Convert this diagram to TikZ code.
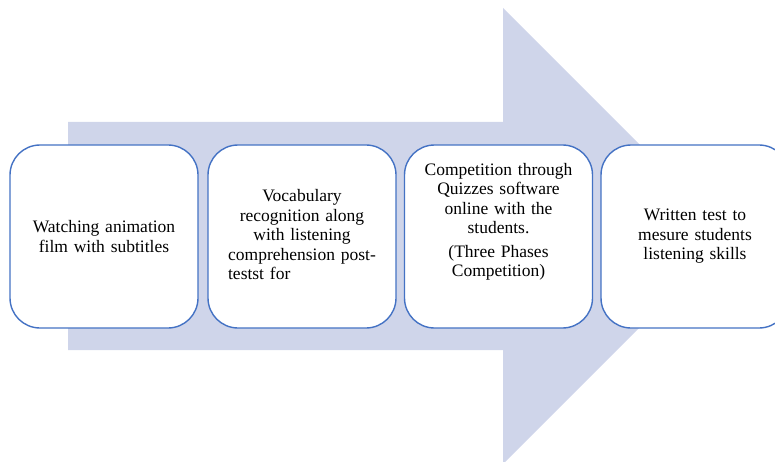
\documentclass[tikz,border=0pt]{standalone}
\usepackage{fontspec}
\setmainfont{Liberation Serif}
\definecolor{arrowfill}{HTML}{CFD5EA}
\definecolor{boxline}{HTML}{4472C4}
\begin{document}
\begin{tikzpicture}[x=1pt,y=-1pt,
  stepbox/.style={draw=boxline, line width=1.4pt, fill=white, rounded corners=30pt,
    minimum width=188pt, minimum height=183pt, inner sep=0pt},
  steptext/.style={align=center, text width=180pt, inner sep=0pt,
    font=\fontsize{17.5pt}{19.5pt}\selectfont}]
\useasboundingbox (0,0) rectangle (775,462);
\clip (0,0) rectangle (775,462);
% big process arrow in the background
\fill[arrowfill] (68,122) -- (503,122) -- (503,8) -- (731,236) -- (503,464)
  -- (503,350) -- (68,350) -- cycle;
% the four steps
\node[stepbox] (s1) at (104,236.5) {};
\node[stepbox] (s2) at (302,236.5) {};
\node[stepbox] (s3) at (498.5,236.5) {};
\node[stepbox] (s4) at (695,236.5) {};
\node[steptext] (t1) at (s1) {Watching animation\\ film with subtitles};
\node[steptext] (t2) at (s2) {Vocabulary\\ recognition along\\ with listening\\ comprehension post-\\
  \makebox[0pt][l]{testst for}\phantom{comprehension post-}};
\node[steptext] (t3) at (498.5,222) {Competition through\\ Quizzes software\\ online with the\\ students.\\[4pt]
  (Three Phases\\ Competition)};
\node[steptext] (t4) at (s4) {Written test to\\ mesure students\\ listening skills};
\end{tikzpicture}
\end{document}
